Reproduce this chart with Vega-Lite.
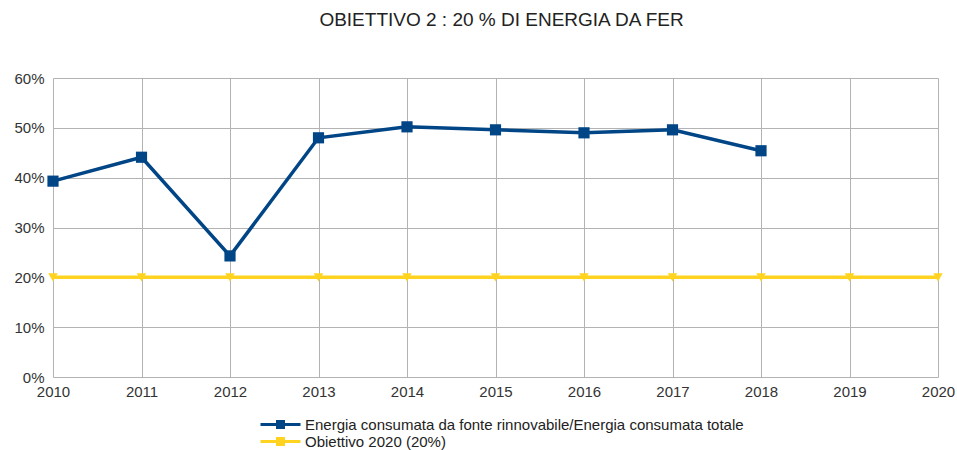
{
  "$schema": "https://vega.github.io/schema/vega-lite/v6.json",
  "width": 885,
  "height": 299,
  "autosize": "none",
  "padding": {"left": 53, "top": 78, "right": 19, "bottom": 73},
  "background": "white",
  "title": {"text": "OBIETTIVO 2 : 20 % DI ENERGIA DA FER", "font": "Liberation Sans", "fontSize": 19, "fontWeight": "normal", "color": "#222222", "offset": 41, "anchor": "middle", "dx": 6},
  "config": {
    "view": {"stroke": null},
    "axis": {"labelFont": "Liberation Sans", "labelFontSize": 15, "labelColor": "#333333", "gridColor": "#b3b3b3", "gridWidth": 1, "domain": false, "ticks": false, "title": null, "labelFlush": false}
  },
  "data": {"values": [
    {"year": 2010, "value": 0.393, "series": "Energia consumata da fonte rinnovabile/Energia consumata totale"},
    {"year": 2011, "value": 0.441, "series": "Energia consumata da fonte rinnovabile/Energia consumata totale"},
    {"year": 2012, "value": 0.243, "series": "Energia consumata da fonte rinnovabile/Energia consumata totale"},
    {"year": 2013, "value": 0.480, "series": "Energia consumata da fonte rinnovabile/Energia consumata totale"},
    {"year": 2014, "value": 0.502, "series": "Energia consumata da fonte rinnovabile/Energia consumata totale"},
    {"year": 2015, "value": 0.496, "series": "Energia consumata da fonte rinnovabile/Energia consumata totale"},
    {"year": 2016, "value": 0.490, "series": "Energia consumata da fonte rinnovabile/Energia consumata totale"},
    {"year": 2017, "value": 0.496, "series": "Energia consumata da fonte rinnovabile/Energia consumata totale"},
    {"year": 2018, "value": 0.454, "series": "Energia consumata da fonte rinnovabile/Energia consumata totale"},
    {"year": 2010, "value": 0.2, "series": "Obiettivo 2020 (20%)"},
    {"year": 2011, "value": 0.2, "series": "Obiettivo 2020 (20%)"},
    {"year": 2012, "value": 0.2, "series": "Obiettivo 2020 (20%)"},
    {"year": 2013, "value": 0.2, "series": "Obiettivo 2020 (20%)"},
    {"year": 2014, "value": 0.2, "series": "Obiettivo 2020 (20%)"},
    {"year": 2015, "value": 0.2, "series": "Obiettivo 2020 (20%)"},
    {"year": 2016, "value": 0.2, "series": "Obiettivo 2020 (20%)"},
    {"year": 2017, "value": 0.2, "series": "Obiettivo 2020 (20%)"},
    {"year": 2018, "value": 0.2, "series": "Obiettivo 2020 (20%)"},
    {"year": 2019, "value": 0.2, "series": "Obiettivo 2020 (20%)"},
    {"year": 2020, "value": 0.2, "series": "Obiettivo 2020 (20%)"}
  ]},
  "encoding": {
    "x": {"field": "year", "type": "quantitative", "scale": {"domain": [2010, 2020], "nice": false}, "axis": {"values": [2010,2011,2012,2013,2014,2015,2016,2017,2018,2019,2020], "format": "d", "labelPadding": 7}},
    "y": {"field": "value", "type": "quantitative", "scale": {"domain": [0, 0.6], "nice": false}, "axis": {"values": [0,0.1,0.2,0.3,0.4,0.5,0.6], "format": ".0%", "labelPadding": 9}},
    "color": {"field": "series", "type": "nominal", "scale": {"domain": ["Energia consumata da fonte rinnovabile/Energia consumata totale", "Obiettivo 2020 (20%)"], "range": ["#004586", "#ffd320"]}}
  },
  "layer": [
    {"mark": {"type": "line", "strokeWidth": 3.5},
     "encoding": {"order": {"field": "series", "sort": "descending"},
       "color": {"field": "series", "type": "nominal", "legend": {
         "orient": "none", "legendX": 220, "legendY": 339, "title": null, "direction": "vertical", "padding": 0,
         "labelFont": "Liberation Sans", "labelFontSize": 15, "labelColor": "#222222", "labelOffset": 17,
         "symbolType": "M-4,0H4M-0.6,-0.6H0.6V0.6H-0.6Z", "symbolSize": 100, "rowPadding": -8, "symbolStrokeWidth": 3, "symbolOpacity": 1, "labelLimit": 700,
         "encode": {"symbols": {"update": {
           "fill": {"signal": "scale('color', datum.value)"},
           "stroke": {"signal": "scale('color', datum.value)"}
         }}}
       }}}},
    {"transform": [{"filter": "datum.series === 'Energia consumata da fonte rinnovabile/Energia consumata totale'"}],
     "mark": {"type": "point", "filled": true, "opacity": 1, "size": 125, "shape": "square"}},
    {"transform": [{"filter": "datum.series === 'Obiettivo 2020 (20%)'"}],
     "mark": {"type": "point", "filled": true, "opacity": 1, "size": 90, "shape": "triangle-down"}}
  ]
}
